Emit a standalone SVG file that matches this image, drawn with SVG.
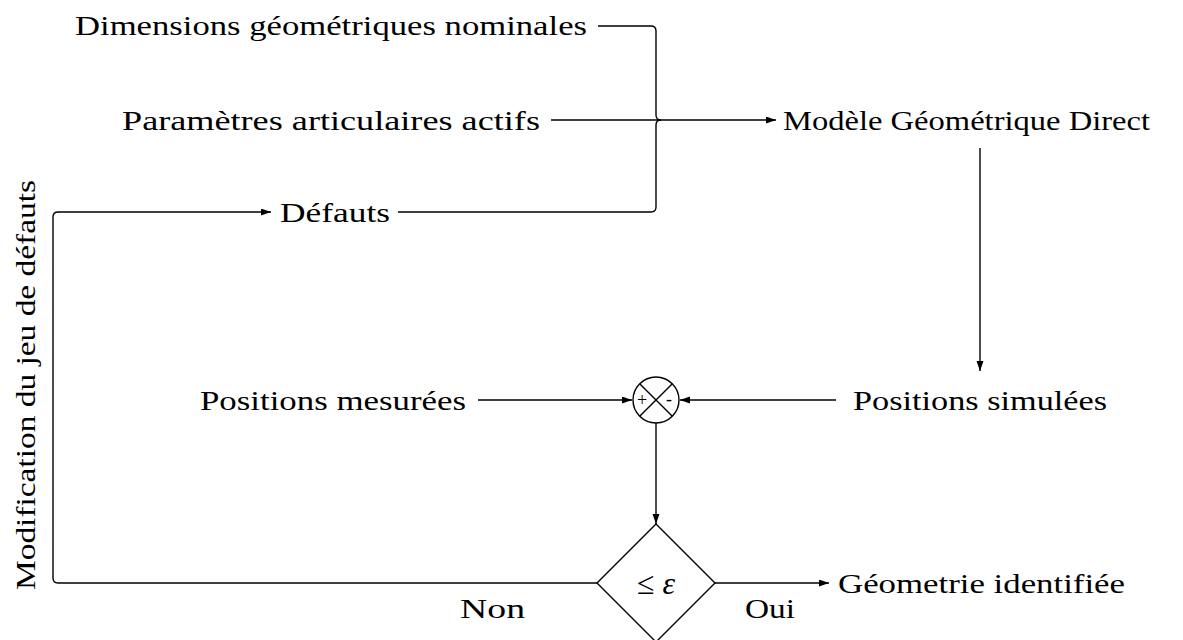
<svg xmlns="http://www.w3.org/2000/svg" width="1183" height="640" viewBox="0 0 1183 640">
<defs>
<marker id="ah" markerUnits="userSpaceOnUse" markerWidth="12" markerHeight="8" refX="10" refY="3.5" orient="auto">
<path d="M0,0 L10,3.5 L0,7 z" fill="#000"/>
</marker>
<style>
text{font-family:'Liberation Serif',Tinos,'Times New Roman',serif;font-size:27px;fill:#000}
.c{fill:none;stroke:#000;stroke-width:1.4}
.a{marker-end:url(#ah)}
.sm{font-size:18px}
</style>
</defs>
<rect width="1183" height="640" fill="#fff"/>
<g id="connectors">
<path class="c" d="M598,26 H651 Q656,26 656,31 V115 Q656,120 661,120"/>
<path class="c" d="M398,212 H651 Q656,212 656,207 V125 Q656,120 661,120"/>
<path class="c a" d="M551,120 H776"/>
<path class="c a" d="M980,148 V371"/>
<path class="c a" d="M836,400 H680"/>
<path class="c a" d="M478,400 H632"/>
<path class="c a" d="M656,423 V524"/>
<path class="c a" d="M715,583 H829"/>
<path class="c a" d="M597,583 H58 Q53,583 53,578 V217 Q53,212 58,212 H271"/>
</g>
<g id="n-dim"><text x="75" y="35" textLength="512" lengthAdjust="spacingAndGlyphs">Dimensions géométriques nominales</text></g>
<g id="n-param"><text x="122" y="130" textLength="418" lengthAdjust="spacingAndGlyphs">Paramètres articulaires actifs</text></g>
<g id="n-defauts"><text x="280" y="222" textLength="110" lengthAdjust="spacingAndGlyphs">Défauts</text></g>
<g id="n-mgd"><text x="783" y="130" textLength="367" lengthAdjust="spacingAndGlyphs">Modèle Géométrique Direct</text></g>
<g id="n-psim"><text x="853" y="410" textLength="254" lengthAdjust="spacingAndGlyphs">Positions simulées</text></g>
<g id="n-pmes"><text x="200" y="410" textLength="266" lengthAdjust="spacingAndGlyphs">Positions mesurées</text></g>
<g id="n-sum">
<circle cx="656" cy="400" r="23" class="c"/>
<path class="c" d="M639.7,383.7 L672.3,416.3 M672.3,383.7 L639.7,416.3"/>
<text class="sm" x="642" y="406" text-anchor="middle">+</text>
<text class="sm" x="669" y="405" text-anchor="middle">-</text>
</g>
<g id="n-test">
<path class="c" d="M656,524 L715,583 L656,642 L597,583 Z"/>
<text x="656" y="594" text-anchor="middle" style="font-size:32px">≤ <tspan font-style="italic">ε</tspan></text>
</g>
<g id="n-geo"><text x="838" y="593" textLength="287" lengthAdjust="spacingAndGlyphs">Géometrie identifiée</text></g>
<g id="l-non"><text x="460" y="618" textLength="65" lengthAdjust="spacingAndGlyphs">Non</text></g>
<g id="l-oui"><text x="745" y="618" textLength="50" lengthAdjust="spacingAndGlyphs">Oui</text></g>
<g id="l-modif"><text transform="translate(35,385) rotate(-90)" text-anchor="middle" textLength="410" lengthAdjust="spacingAndGlyphs">Modification du jeu de défauts</text></g>
</svg>
